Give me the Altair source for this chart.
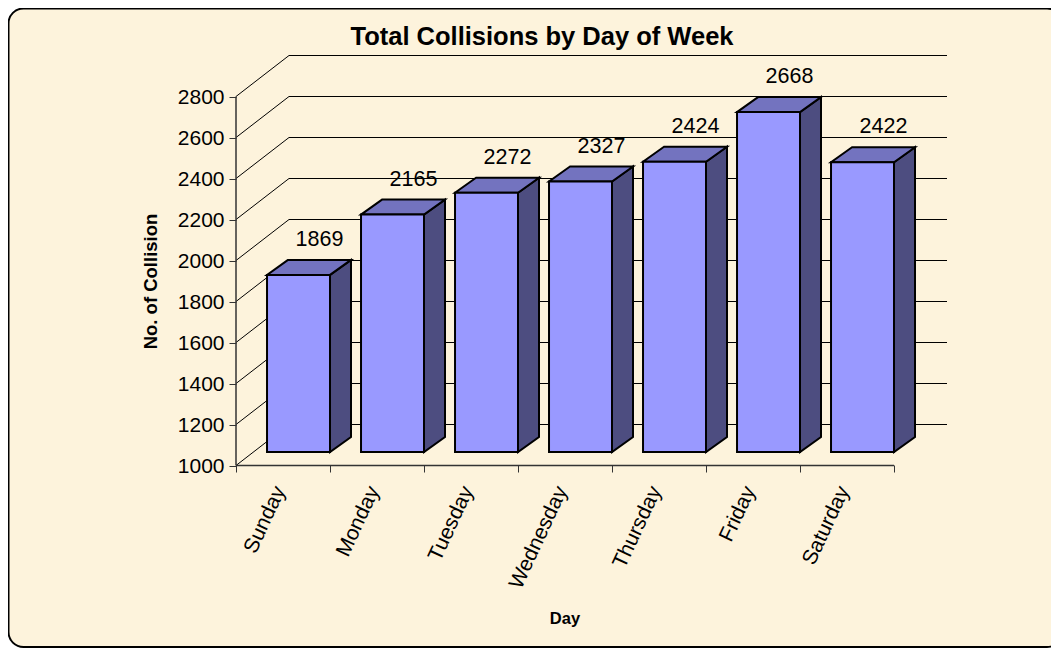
import altair as alt
import pandas as pd

days = ["Sunday", "Monday", "Tuesday", "Wednesday", "Thursday", "Friday", "Saturday"]
collisions = [1869, 2165, 2272, 2327, 2424, 2668, 2422]
y_ticks = [1000, 1200, 1400, 1600, 1800, 2000, 2200, 2400, 2600, 2800]
slot_ticks = [0, 1, 2, 3, 4, 5, 6, 7]

FONT = "Liberation Sans"
PAPER = "#FDF3DC"
W, H = 1043, 640

# depth settings, expressed in scale units
WALL_X = 53 / 94       # floor-to-back-wall shift, in category slots
WALL_Y = 200           # the wall is one grid step behind the axis
BAR_L, BAR_R = 0.33, 1.0
DEPTH_X = 21 / 94
DEPTH_Y = 73.6
LABEL_Y = 172

x_scale = alt.Scale(domain=[0, 7.6], range=[228, 228 + 94 * 7.6], nice=False, zero=False)
y_scale = alt.Scale(domain=[1000, 3000], range=[457.5, 47.5], nice=False, zero=False)
bar_scale = alt.Scale(domain=[1000, 2800], range=[444, 444 - 0.2038 * 1800], nice=False, zero=False)

frame = alt.Chart(pd.DataFrame({"a": [0]})).mark_rect(
    fill=PAPER, stroke="black", strokeWidth=2, cornerRadius=15
).encode(x=alt.value(0.5), x2=alt.value(1054), y=alt.value(0.5), y2=alt.value(639))

# diagonal grid lines on the side wall
diag = pd.DataFrame(
    [{"t": t, "x": 0, "y": t} for t in y_ticks]
    + [{"t": t, "x": WALL_X, "y": t + WALL_Y} for t in y_ticks]
)
diagonals = alt.Chart(diag).mark_line(color="black", strokeWidth=1).encode(
    x=alt.X("x:Q", scale=x_scale, axis=None),
    y=alt.Y("y:Q", scale=y_scale, axis=None),
    detail="t:N",
)

walls = pd.DataFrame(
    {"x": [WALL_X] * len(y_ticks), "x2": [WALL_X + 7] * len(y_ticks), "y": [t + WALL_Y for t in y_ticks]}
)
gridlines = alt.Chart(walls).mark_rule(color="black", strokeWidth=1).encode(
    x=alt.X("x:Q", scale=x_scale, axis=None),
    x2="x2:Q",
    y=alt.Y("y:Q", scale=y_scale, axis=None),
)

# axis lines stop at the last tick, not at the end of the scale
x_line = alt.Chart(pd.DataFrame({"x": [slot_ticks[0]], "x2": [slot_ticks[-1]], "y": [y_ticks[0]]})).mark_rule(
    color="#333333", strokeWidth=1.5
).encode(
    x=alt.X("x:Q", scale=x_scale, axis=None), x2="x2:Q", y=alt.Y("y:Q", scale=y_scale, axis=None)
)
y_line = alt.Chart(pd.DataFrame({"x": [slot_ticks[0]], "y": [y_ticks[0]], "y2": [y_ticks[-1]]})).mark_rule(
    color="#333333", strokeWidth=1.5
).encode(
    x=alt.X("x:Q", scale=x_scale, axis=None), y=alt.Y("y:Q", scale=y_scale, axis=None), y2="y2:Q"
)

axes = alt.Chart(pd.DataFrame({"x": [0], "y": [1000]})).mark_point(opacity=0).encode(
    x=alt.X(
        "x:Q", scale=x_scale,
        axis=alt.Axis(
            values=slot_ticks, labels=False, grid=False, offset=-(H - 457), orient="bottom", zindex=1,
            domain=False, tickColor="#333333", tickSize=7, tickWidth=1, title=None,
        ),
    ),
    y=alt.Y(
        "y:Q", scale=y_scale,
        axis=alt.Axis(
            values=y_ticks, grid=False, offset=-228, orient="left", format="d", zindex=1,
            domain=False, tickColor="#333333", tickSize=7, tickWidth=1,
            labelFont=FONT, labelFontSize=21, labelColor="black", labelPadding=5, labelOffset=1,
            title="No. of Collision", titleFont=FONT, titleFontSize=18.5, titleFontWeight="bold",
            titleColor="black", titleX=-86, titleY=273, titleAngle=270,
            titleAlign="center", titleBaseline="middle",
        ),
    ),
)

x_title = alt.Chart(pd.DataFrame({"t": ["Day"]})).mark_text(
    font=FONT, fontSize=16.5, fontWeight="bold", color="black", align="center", baseline="middle"
).encode(x=alt.value(557), y=alt.value(611), text="t:N")

rows = []
for i, (d, v) in enumerate(zip(days, collisions)):
    rows.append({"day": d, "i": i, "v": v, "l": i + BAR_L, "r": i + BAR_R})
bars = pd.DataFrame(rows)

side = pd.DataFrame(
    [{"day": r["day"], "x": r["r"], "y": r["v"], "y2": 1000} for r in rows]
    + [{"day": r["day"], "x": r["r"] + DEPTH_X, "y": r["v"] + DEPTH_Y, "y2": 1000 + DEPTH_Y} for r in rows]
)
top = pd.DataFrame(
    [{"day": r["day"], "y": r["v"], "x": r["l"], "x2": r["r"]} for r in rows]
    + [{"day": r["day"], "y": r["v"] + DEPTH_Y, "x": r["l"] + DEPTH_X, "x2": r["r"] + DEPTH_X} for r in rows]
)

side_faces = alt.Chart(side).mark_area(
    fill="#4D4D80", stroke="black", strokeWidth=2, interpolate="linear"
).encode(
    x=alt.X("x:Q", scale=x_scale, axis=None),
    y=alt.Y("y:Q", scale=bar_scale, axis=None),
    y2="y2:Q",
    detail="day:N",
)
top_faces = alt.Chart(top).mark_area(
    fill="#7373BF", stroke="black", strokeWidth=2, orient="horizontal", interpolate="linear"
).encode(
    y=alt.Y("y:Q", scale=bar_scale, axis=None),
    x=alt.X("x:Q", scale=x_scale, axis=None),
    x2="x2:Q",
    detail="day:N",
)
front_faces = alt.Chart(bars).mark_rect(
    fill="#9999FF", stroke="black", strokeWidth=2
).encode(
    x=alt.X("l:Q", scale=x_scale, axis=None),
    x2="r:Q",
    y=alt.Y("v:Q", scale=bar_scale, axis=None),
    y2=alt.Y2(datum=1000),
)

bars2 = bars.assign(lx=lambda d: d["i"] + (BAR_L + BAR_R) / 2 + DEPTH_X, ly=lambda d: d["v"] + LABEL_Y)
value_labels = alt.Chart(bars2).mark_text(
    font=FONT, fontSize=21.5, color="black", align="center", baseline="middle"
).encode(
    x=alt.X("lx:Q", scale=x_scale, axis=None),
    y=alt.Y("ly:Q", scale=bar_scale, axis=None),
    text="v:Q",
)

cats = bars.assign(cx=lambda d: d["i"] + 0.47)
cat_labels = alt.Chart(cats).mark_text(
    font=FONT, fontSize=21, color="black", align="right", baseline="middle", angle=295
).encode(
    x=alt.X("cx:Q", scale=x_scale, axis=None),
    y=alt.Y(datum=892, scale=y_scale, axis=None),
    text="day:N",
)

chart = alt.layer(
    frame, diagonals, gridlines, axes, x_line, y_line,
    side_faces, top_faces, front_faces, value_labels, cat_labels, x_title
).resolve_scale(y="independent").resolve_axis(x="independent").properties(
    width=W, height=H, padding=0, autosize=alt.AutoSizeParams(type="none"),
    title=alt.TitleParams(
        "Total Collisions by Day of Week", font=FONT, fontSize=25.5, fontWeight="bold", color="black",
        anchor="middle", dx=12.5, offset=-55, baseline="middle",
    ),
).configure_view(stroke=None)

chart.save("out.html", embed_options={"renderer": "svg", "actions": False})
